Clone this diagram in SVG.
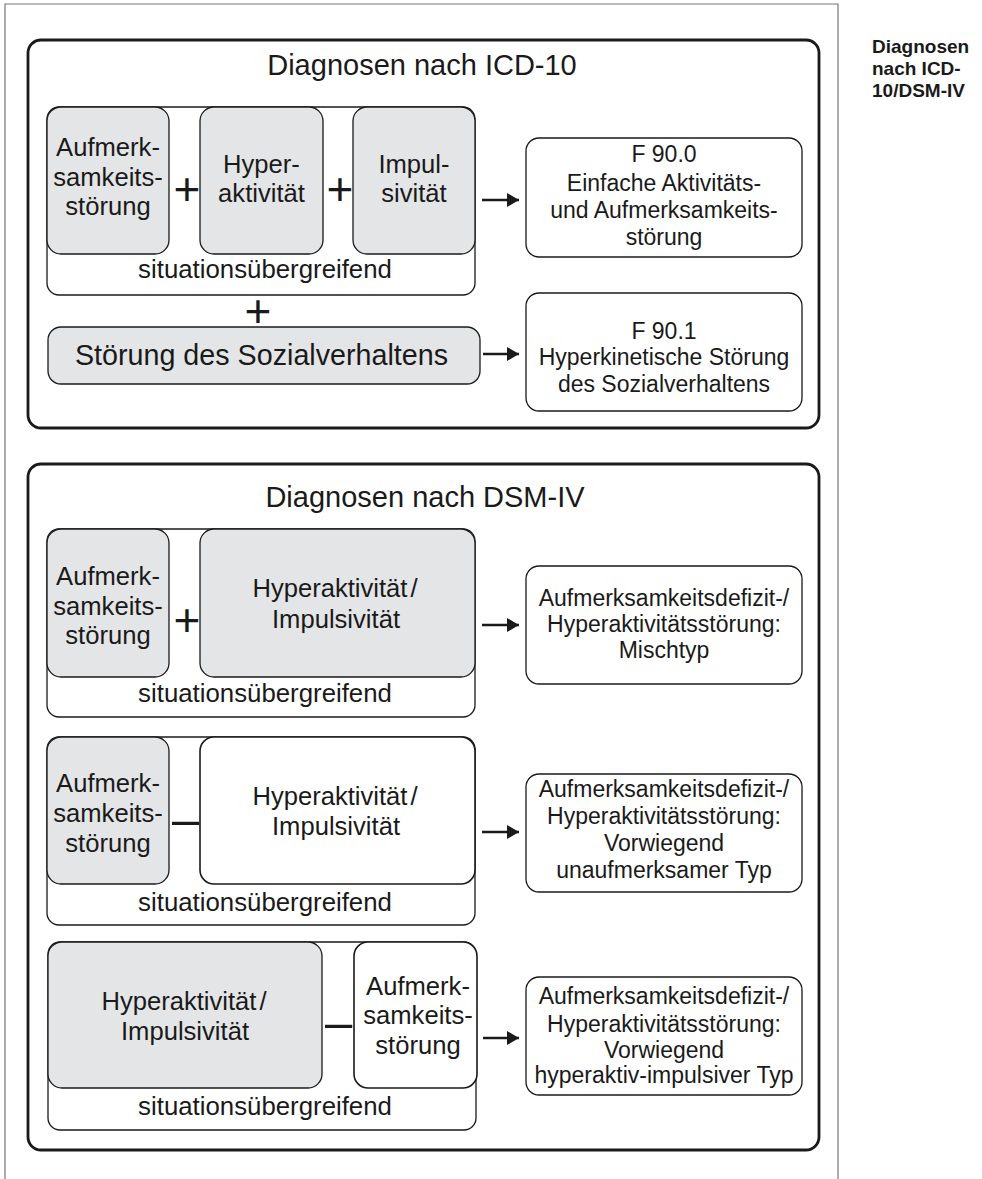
<svg xmlns="http://www.w3.org/2000/svg" width="982" height="1179" viewBox="0 0 982 1179">
<defs>
<style>
text{font-family:"Liberation Sans",Arial,sans-serif;fill:#1a1a1a}
.t{font-size:25.6px;text-anchor:middle}
.r{font-size:23px;text-anchor:middle}
.ttl{font-size:29px;text-anchor:middle}
.sit{font-size:25.8px;text-anchor:middle}
.op{font-size:46px;text-anchor:middle}
.mn{font-size:49px}
.side{font-size:19px;font-weight:bold}
.frame{fill:none;stroke:#1a1a1a;stroke-width:2.8}
.grp{fill:#fff;stroke:#1a1a1a;stroke-width:1.3}
.gray{fill:#e4e5e7;stroke:#1a1a1a;stroke-width:1.3}
.wb{fill:#fff;stroke:#1a1a1a;stroke-width:1.6}
.res{fill:#fff;stroke:#1a1a1a;stroke-width:1.3}
.arr{stroke:#1a1a1a;stroke-width:2.5;fill:none;marker-end:url(#ah)}
.page{stroke:#777;stroke-width:1.2;fill:none}
</style>
<marker id="ah" markerWidth="12" markerHeight="14" refX="12" refY="7" orient="auto" markerUnits="userSpaceOnUse">
<path d="M0,0 L12,7 L0,14 Z" fill="#1a1a1a"/>
</marker>
</defs>

<g id="page">
<path class="page" d="M5,1179 V4 H838 V1179"/>
</g>

<g id="side-label">
<text class="side" x="872" y="53">Diagnosen</text>
<text class="side" x="872" y="75">nach ICD-</text>
<text class="side" x="872" y="97">10/DSM-IV</text>
</g>

<!-- ICD-10 -->
<g id="icd-frame">
<rect class="frame" x="28" y="40" width="791" height="388" rx="13"/>
<text class="ttl" x="422" y="75">Diagnosen nach ICD-10</text>
</g>
<g id="icd-group">
<rect class="grp" x="47" y="107" width="428" height="188" rx="12"/>
<text class="sit" x="265" y="278">situationsübergreifend</text>
</g>
<g id="icd-aufmerk">
<rect class="gray" x="47" y="107" width="122" height="147" rx="14"/>
<text class="t" x="108" y="156">Aufmerk-</text>
<text class="t" x="108" y="185.5">samkeits-</text>
<text class="t" x="108" y="215">störung</text>
</g>
<g id="icd-hyper">
<rect class="gray" x="200" y="107" width="123" height="147" rx="14"/>
<text class="t" x="261.5" y="173">Hyper-</text>
<text class="t" x="261.5" y="202">aktivität</text>
</g>
<g id="icd-impuls">
<rect class="gray" x="353" y="107" width="122" height="147" rx="14"/>
<text class="t" x="414" y="173">Impul-</text>
<text class="t" x="414" y="202">sivität</text>
</g>
<g id="icd-ops">
<text class="op" x="187" y="205">+</text>
<text class="op" x="340" y="205">+</text>
<text class="op" x="258" y="327">+</text>
</g>
<g id="icd-sozial">
<rect class="gray" x="48" y="327" width="432" height="57" rx="13"/>
<text x="261.5" y="365" style="font-size:28.7px;text-anchor:middle">Störung des Sozialverhaltens</text>
</g>
<g id="icd-f900">
<rect class="res" x="526" y="138" width="276" height="119" rx="13"/>
<text class="r" x="664" y="162">F 90.0</text>
<text class="r" x="664" y="190.5">Einfache Aktivitäts-</text>
<text class="r" x="664" y="218">und Aufmerksamkeits-</text>
<text class="r" x="664" y="245">störung</text>
</g>
<g id="icd-f901">
<rect class="res" x="526" y="293" width="276" height="118" rx="13"/>
<text class="r" x="664" y="339">F 90.1</text>
<text class="r" x="664" y="365">Hyperkinetische Störung</text>
<text class="r" x="664" y="392">des Sozialverhaltens</text>
</g>

<!-- DSM-IV -->
<g id="dsm-frame">
<rect class="frame" x="28" y="464" width="791" height="686" rx="13"/>
<text class="ttl" x="425" y="507">Diagnosen nach DSM-IV</text>
</g>

<g id="dsm1">
<rect class="grp" x="47" y="529" width="428" height="188" rx="12"/>
<text class="sit" x="265" y="702">situationsübergreifend</text>
<rect class="gray" x="47" y="529" width="122" height="148" rx="14"/>
<text class="t" x="108" y="585">Aufmerk-</text>
<text class="t" x="108" y="614.5">samkeits-</text>
<text class="t" x="108" y="644">störung</text>
<rect class="gray" x="200" y="529" width="275" height="148" rx="14"/>
<text class="t" x="335" y="597">Hyperaktivität<tspan dx="3">/</tspan></text>
<text class="t" x="336" y="628">Impulsivität</text>
<text class="op" x="187" y="636">+</text>
</g>
<g id="dsm1-result">
<rect class="res" x="526" y="566" width="276" height="118" rx="13"/>
<text class="r" x="664" y="606">Aufmerksamkeitsdefizit-/</text>
<text class="r" x="664" y="632">Hyperaktivitätsstörung:</text>
<text class="r" x="664" y="658">Mischtyp</text>
</g>

<g id="dsm2">
<rect class="grp" x="47" y="737" width="428" height="188" rx="12"/>
<text class="sit" x="265" y="911">situationsübergreifend</text>
<rect class="gray" x="47" y="737" width="122" height="147" rx="14"/>
<text class="t" x="108" y="792">Aufmerk-</text>
<text class="t" x="108" y="822">samkeits-</text>
<text class="t" x="108" y="852">störung</text>
<rect class="wb" x="200" y="737" width="275" height="147" rx="14"/>
<text class="t" x="335" y="805">Hyperaktivität<tspan dx="3">/</tspan></text>
<text class="t" x="336" y="835">Impulsivität</text>
<text class="mn" x="172" y="835.5">–</text>
</g>
<g id="dsm2-result">
<rect class="res" x="526" y="774" width="276" height="118" rx="13"/>
<text class="r" x="664" y="797">Aufmerksamkeitsdefizit-/</text>
<text class="r" x="664" y="824">Hyperaktivitätsstörung:</text>
<text class="r" x="664" y="851">Vorwiegend</text>
<text class="r" x="664" y="878">unaufmerksamer Typ</text>
</g>

<g id="dsm3">
<rect class="grp" x="48" y="942" width="428" height="188" rx="12"/>
<text class="sit" x="265" y="1115">situationsübergreifend</text>
<rect class="gray" x="48" y="942" width="274" height="146" rx="14"/>
<text class="t" x="184" y="1010">Hyperaktivität<tspan dx="3">/</tspan></text>
<text class="t" x="185" y="1040">Impulsivität</text>
<rect class="wb" x="354" y="942" width="123" height="146" rx="14"/>
<text class="t" x="418" y="995">Aufmerk-</text>
<text class="t" x="418" y="1024">samkeits-</text>
<text class="t" x="418" y="1054">störung</text>
<text class="mn" x="325" y="1038.5">–</text>
</g>
<g id="dsm3-result">
<rect class="res" x="526" y="977" width="276" height="118" rx="13"/>
<text class="r" x="664" y="1004">Aufmerksamkeitsdefizit-/</text>
<text class="r" x="664" y="1032">Hyperaktivitätsstörung:</text>
<text class="r" x="664" y="1058">Vorwiegend</text>
<text class="r" x="664" y="1083">hyperaktiv-impulsiver Typ</text>
</g>

<g id="connectors">
<line class="arr" x1="482" y1="200" x2="519" y2="200"/>
<line class="arr" x1="483" y1="354" x2="519" y2="354"/>
<line class="arr" x1="482" y1="625" x2="519" y2="625"/>
<line class="arr" x1="482" y1="832" x2="519" y2="832"/>
<line class="arr" x1="483" y1="1038" x2="519" y2="1038"/>
</g>
</svg>
